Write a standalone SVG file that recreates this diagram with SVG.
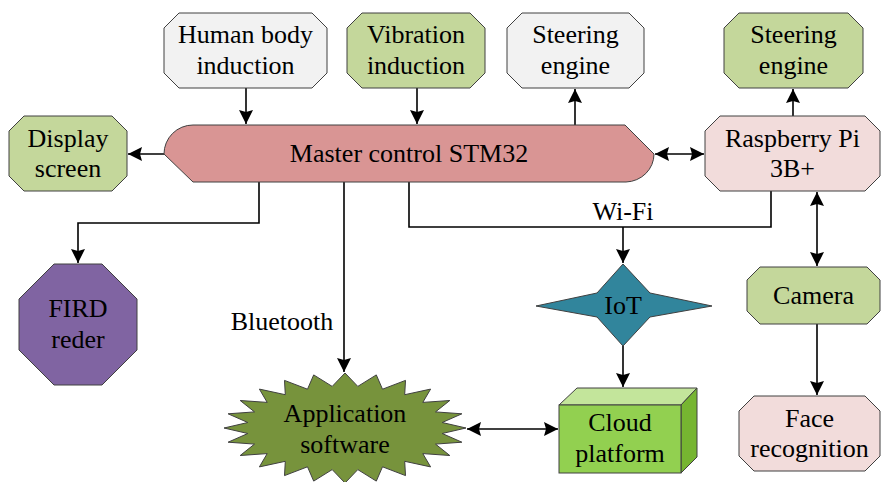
<svg xmlns="http://www.w3.org/2000/svg" width="881" height="482" viewBox="0 0 881 482">
<style>
.n{stroke:#404040;stroke-width:1}
.t{font-family:'Liberation Serif',Tinos,'Times New Roman','DejaVu Serif',serif;font-size:26px;fill:#000;text-anchor:middle}
.c{fill:none;stroke:#000;stroke-width:1.6}
.gray{fill:#f2f2f2}.green{fill:#c4d79b}.pink{fill:#f2dcdb}
</style>
<defs>
<marker id="ah" markerUnits="userSpaceOnUse" markerWidth="15" markerHeight="15" refX="14" refY="7" orient="auto-start-reverse">
<path d="M0,0 L14,7 L0,14 L2,7 Z" fill="#000"/>
</marker>
</defs>
<rect width="881" height="482" fill="#fff"/>
<g id="connectors">
<path class="c" d="M246,88 V124" marker-end="url(#ah)"/>
<path class="c" d="M417,88 V124" marker-end="url(#ah)"/>
<path class="c" d="M575,125 V89" marker-end="url(#ah)"/>
<path class="c" d="M793,116 V89" marker-end="url(#ah)"/>
<path class="c" d="M164,154 H128" marker-end="url(#ah)"/>
<path class="c" d="M655,154 H704" marker-start="url(#ah)" marker-end="url(#ah)"/>
<path class="c" d="M259,182 V223 H78 V263" marker-end="url(#ah)"/>
<path class="c" d="M344,182 V372" marker-end="url(#ah)"/>
<path class="c" d="M409,182 V227 H771 V191"/>
<path class="c" d="M623,227 V263" marker-end="url(#ah)"/>
<path class="c" d="M817,192 V266" marker-start="url(#ah)" marker-end="url(#ah)"/>
<path class="c" d="M817,324 V395" marker-end="url(#ah)"/>
<path class="c" d="M623,346 V387" marker-end="url(#ah)"/>
<path class="c" d="M467,429 H558" marker-start="url(#ah)" marker-end="url(#ah)"/>
<text class="t" x="623" y="220">Wi-Fi</text>
<text class="t" x="282" y="330">Bluetooth</text>
</g>
<g id="human">
<polygon class="n gray" points="179,13 312,13 327,28 327,73 312,88 179,88 164,73 164,28"/>
<text class="t" x="245.5" y="43">Human body</text>
<text class="t" x="245.5" y="74">induction</text>
</g>
<g id="vibration">
<polygon class="n green" points="362,13 470,13 485,28 485,73 470,88 362,88 347,73 347,28"/>
<text class="t" x="416" y="43">Vibration</text>
<text class="t" x="416" y="74">induction</text>
</g>
<g id="steering1">
<polygon class="n gray" points="522,13 629,13 644,28 644,73 629,88 522,88 507,73 507,28"/>
<text class="t" x="575.5" y="43">Steering</text>
<text class="t" x="575.5" y="74">engine</text>
</g>
<g id="steering2">
<polygon class="n green" points="739,13 848,13 863,28 863,73 848,88 739,88 724,73 724,28"/>
<text class="t" x="793.5" y="43">Steering</text>
<text class="t" x="793.5" y="74">engine</text>
</g>
<g id="display">
<polygon class="n green" points="24,116 112,116 127,131 127,176 112,191 24,191 9,176 9,131"/>
<text class="t" x="68" y="147">Display</text>
<text class="t" x="68" y="177">screen</text>
</g>
<g id="master">
<path class="n" fill="#d99594" d="M193,125 L625,125 L654,154 A29,28 0 0 1 626,182 L193,182 L164,154 A29,29 0 0 1 193,125 Z"/>
<text class="t" x="409" y="162">Master control STM32</text>
</g>
<g id="raspberry">
<polygon class="n pink" points="720,116 865,116 880,131 880,176 865,191 720,191 705,176 705,131"/>
<text class="t" x="792.5" y="147">Raspberry Pi</text>
<text class="t" x="792.5" y="177">3B+</text>
</g>
<g id="fird">
<polygon class="n" fill="#8064a2" points="54,264 102,264 137,299 137,350 102,385 54,385 19,350 19,299"/>
<text class="t" x="78" y="317">FIRD</text>
<text class="t" x="78" y="348">reder</text>
</g>
<g id="app">
<polygon class="n" fill="#77933c" points="345,373 357.8,386.4 376.3,374.9 382.5,389.2 405.5,380.4 404.7,394.7 430.6,389.1 422.8,402.4 449.8,400.5 435.5,411.9 461.9,413.8 442.2,422.5 466,428 442.2,433.5 461.9,442.2 435.5,444.1 449.8,455.5 422.8,453.6 430.6,466.9 404.7,461.3 405.5,475.6 382.5,466.8 376.3,481.1 357.8,469.6 345,483 332.2,469.6 313.7,481.1 307.5,466.8 284.5,475.6 285.3,461.3 259.4,466.9 267.2,453.6 240.2,455.5 254.5,444.1 228.1,442.2 247.8,433.5 224,428 247.8,422.5 228.1,413.8 254.5,411.9 240.2,400.5 267.2,402.4 259.4,389.1 285.3,394.7 284.5,380.4 307.5,389.2 313.7,374.9 332.2,386.4"/>
<text class="t" x="345" y="422">Application</text>
<text class="t" x="345" y="453">software</text>
</g>
<g id="iot">
<polygon class="n" fill="#31859c" points="623,264 650,293 712,306 650,317 623,346 597,317 536,306 597,293"/>
<text class="t" x="623" y="314">IoT</text>
</g>
<g id="cloud">
<polygon class="n" fill="#c3e59b" points="559,405 577,388 697,388 681,405"/>
<polygon class="n" fill="#76b531" points="681,405 697,388 697,457 681,473"/>
<rect class="n" fill="#92d050" x="559" y="405" width="122" height="68"/>
<text class="t" x="620" y="431">Cloud</text>
<text class="t" x="620" y="462">platform</text>
</g>
<g id="camera">
<polygon class="n green" points="760,267 867,267 880,280 880,311 867,324 760,324 747,311 747,280"/>
<text class="t" x="813.5" y="304">Camera</text>
</g>
<g id="face">
<polygon class="n pink" points="754,396 865,396 880,411 880,456 865,471 754,471 739,456 739,411"/>
<text class="t" x="809.5" y="427">Face</text>
<text class="t" x="809.5" y="457">recognition</text>
</g>
</svg>
